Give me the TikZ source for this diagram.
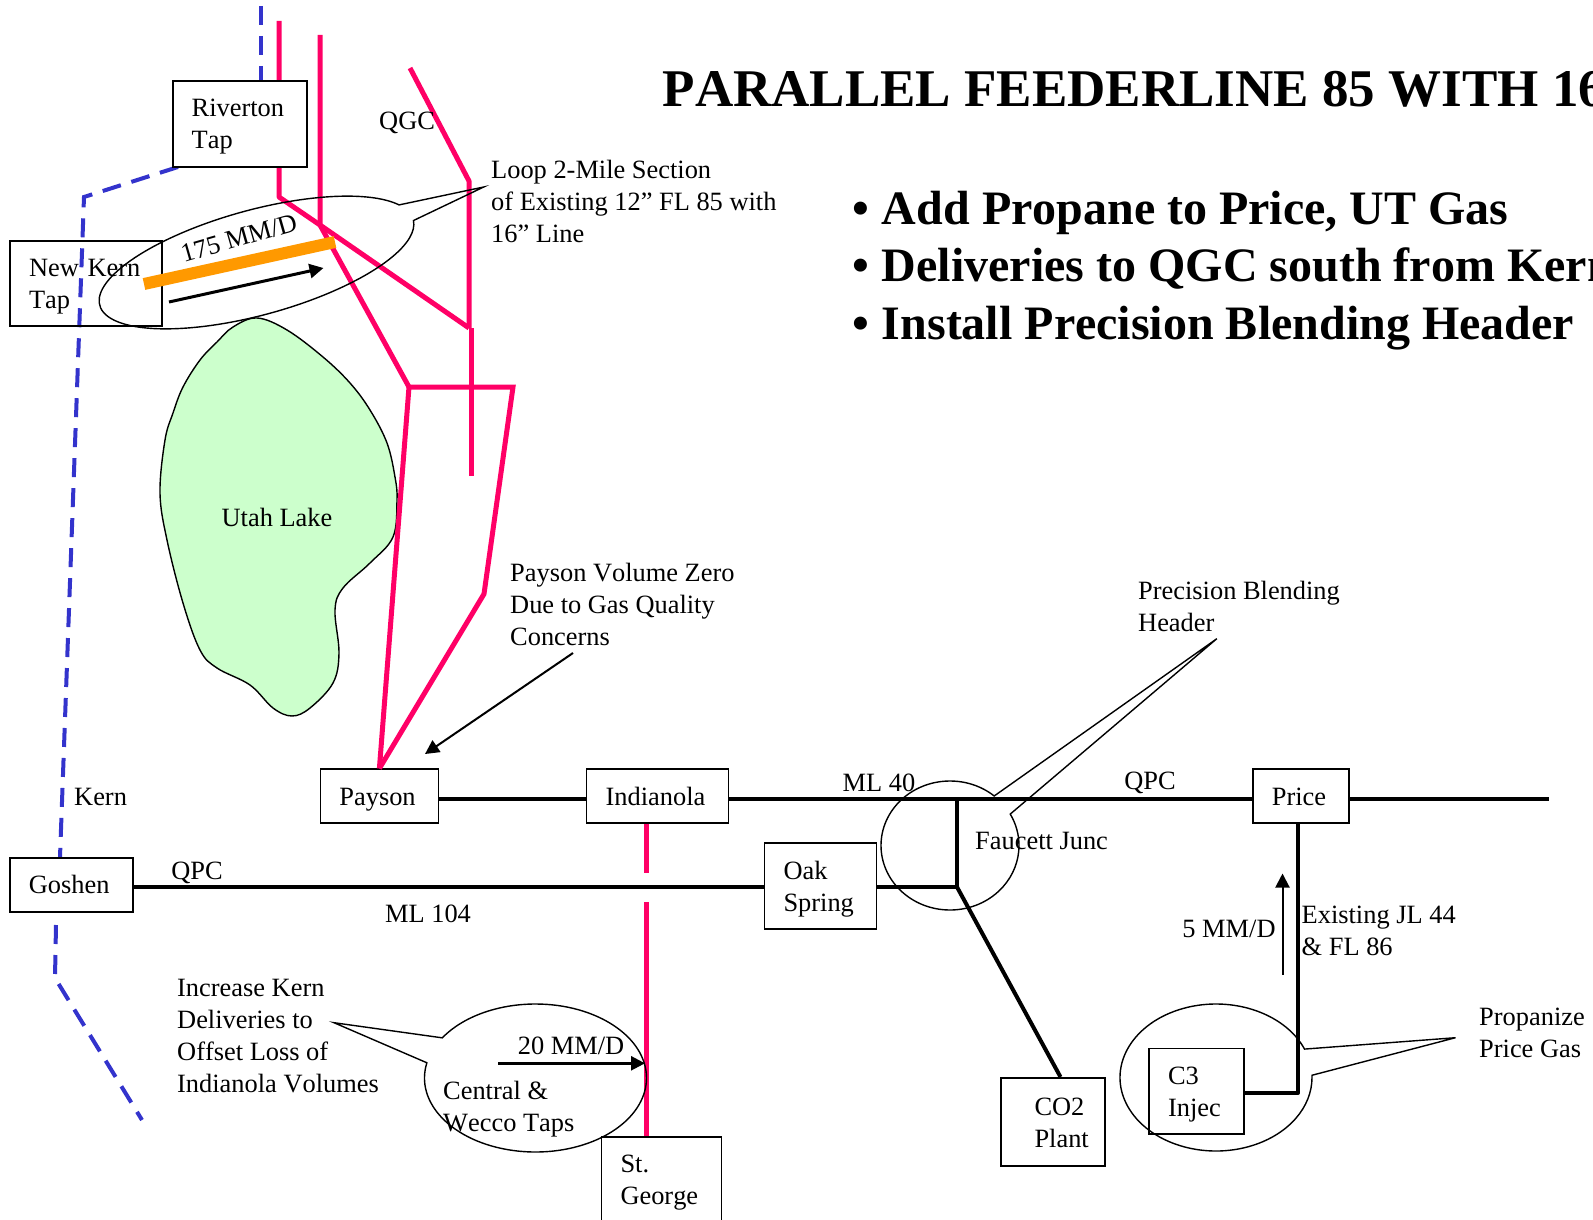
\documentclass[tikz,border=0pt]{standalone}
\usepackage{fontspec}
\setmainfont[Kerning=Off]{Liberation Serif}
\usetikzlibrary{arrows.meta,shapes.callouts,shapes.geometric}
\definecolor{feedPink}{RGB}{255,0,102}
\definecolor{kernBlue}{RGB}{51,51,204}
\definecolor{loopOrange}{RGB}{255,153,0}
\definecolor{lakeGreen}{RGB}{204,255,204}
\newcommand{\tapstrut}{\rule[-6pt]{0pt}{30pt}}

\begin{document}
\begin{tikzpicture}[x=1pt, y=-1pt,
    tap/.style={rectangle, draw=black, line width=1.7pt, fill=white, inner xsep=19pt, inner ysep=0pt,
                font=\fontsize{26.4}{32}\selectfont, align=left,
                execute at begin node=\tapstrut, execute at end node=\tapstrut},
    lbl/.style={inner sep=0pt, font=\fontsize{26.4}{32}\selectfont, align=left},
    bubble/.style={ellipse callout, draw=black, line width=1.4pt, callout pointer arc=21, inner sep=0pt},
    feed/.style={feedPink, line width=5pt},
    kern/.style={kernBlue, line width=4pt, dash pattern=on 19pt off 11pt},
    main/.style={black, line width=4pt},
    flow/.style={-{Triangle[length=14pt,width=14pt]}, black, line width=2.5pt}
  ]
  \clip[use as bounding box] (0,0) rectangle (1593,1220);

  % free ends and bends of the lines
  \coordinate (kernN) at (261,6);
  \coordinate (rivE)  at (178,167);
  \coordinate (kernB) at (84,197);
  \coordinate (goshN) at (60,857);
  \coordinate (goshS) at (56,925);
  \coordinate (kernC) at (55,978);
  \coordinate (kernE) at (142,1120);
  \coordinate (lineA) at (279,21);
  \coordinate (lineB) at (279,197);
  \coordinate (lineC) at (320,35);
  \coordinate (joinA) at (320,225);
  \coordinate (qgcN)  at (410,68);
  \coordinate (qgcB)  at (469,181);
  \coordinate (qgcC)  at (469,328);
  \coordinate (qgcE)  at (471,476);
  \coordinate (westT) at (409,387);
  \coordinate (eastT) at (513,387);
  \coordinate (eastB) at (484,594);
  \coordinate (stgA)  at (646,873);
  \coordinate (stgB)  at (646,902);
  \coordinate (mainE) at (1549,799);
  \coordinate (faucN) at (957,799);
  \coordinate (faucS) at (957,887);
  \coordinate (priceS) at (1298,823);
  \coordinate (c3Bend) at (1298,1093);

  \draw[kern] (kernN) -- (261,81);
  \draw[kern] (rivE) -- (kernB) -- (goshN);
  \draw[kern] (goshS) -- (kernC) -- (kernE);

  \draw[fill=lakeGreen, draw=black, line width=1.4pt] plot[smooth cycle, tension=0.6] coordinates {
    (257,318) (287,330) (323,357) (350,383) (370,410) (387,443) (395,477) (397,500) (393,537)
    (370,563) (343,588) (335,610) (339,653) (333,683) (310,708) (292,716) (273,708) (250,685)
    (217,668) (200,650) (183,603) (167,540) (160,493) (165,440) (173,413) (183,387) (200,360)
    (217,342) (233,327)};
  \node[lbl] (lake) at (277,517) {Utah Lake};

  \draw[feed, line join=round] (lineA) -- (lineB) -- (joinA) -- (qgcC);
  \draw[feed] (lineC) -- (joinA) -- (westT);
  \draw[feed, line join=round] (qgcN) -- (qgcB) -- (qgcC);
  \draw[feed] (qgcC) ++(2,0) -- (qgcE);

  \node[tap, text width=96pt, minimum height=85.5pt] (riverton) at (239.7,124) {Riverton\\Tap};
  \node[tap, text width=114pt, minimum height=85pt, fill=none] (newkern) at (86,283.5) {New Kern\\Tap};
  \node[tap, text width=80pt, minimum height=53.4pt] (payson) at (379.4,796) {Payson};
  \node[tap, text width=104pt, minimum height=53.4pt] (indianola) at (657.6,796) {Indianola};
  \node[tap, text width=85pt, minimum height=54pt] (goshen) at (71.4,884.7) {Goshen};
  \node[tap, text width=74pt, minimum height=86pt] (oak) at (820.5,886) {Oak\\Spring};
  \node[tap, text width=82pt, minimum height=84pt] (george) at (661.5,1179) {St.\\George};
  \node[tap, text width=58.3pt, minimum height=54pt] (price) at (1301,796) {Price};
  \node[tap, inner xsep=16pt, text width=72pt, minimum height=88.3pt] (co2) at (1053,1122) {\hspace*{17.5pt}CO2\\\hspace*{17.5pt}Plant};
  \node[tap, text width=57pt, minimum height=85.4pt] (c3) at (1196.5,1091.3) {C3\\Injec};

  \draw[feed] (westT) -- (eastT) -- (eastB) -- (payson.north);
  \draw[feed, line join=round] (westT) -- (payson.north);
  \draw[feed] (indianola.south -| stgA) -- (stgA);
  \draw[feed] (stgB) -- (george.north -| stgB);

  \draw[main] (payson.east |- mainE) -- (indianola.west |- mainE);
  \draw[main] (indianola.east |- mainE) -- (price.west |- mainE);
  \draw[main] (price.east |- mainE) -- (mainE);
  \draw[main] (goshen.east |- faucS) -- (oak.west |- faucS);
  \draw[main, line join=round] (oak.east |- faucS) -- (faucS) -- (faucN);
  \draw[main] (faucS) -- (co2.north -| 1060.5,0);
  \draw[main, line join=round] (priceS) -- (c3Bend) -- (c3.east |- c3Bend);

  \node[bubble, minimum width=325pt, minimum height=105pt, rotate=15.3,
        callout absolute pointer={(483.7,187)}] (loopBub) at (256.5,262.5) {};
  \node[bubble, minimum width=138pt, minimum height=129pt,
        callout absolute pointer={(1216.8,638.7)}] (faucBub) at (950,845.5) {};
  \node[bubble, minimum width=222pt, minimum height=148pt,
        callout absolute pointer={(334,1022.7)}] (tapBub) at (535.5,1078) {};
  \node[bubble, minimum width=192pt, minimum height=147pt,
        callout absolute pointer={(1455.5,1037.7)}] (c3Bub) at (1216,1077.5) {};

  \coordinate (loopW) at (144,284);
  \coordinate (loopE) at (335,242);
  \draw[loopOrange, line width=12pt] (loopW) -- (loopE);
  \node[lbl, rotate=16] (loopRate) at (239,238) {175 MM/D};
  \coordinate (rateA) at (169,302);
  \coordinate (rateB) at (323.5,268);
  \draw[flow, line width=3pt] (rateA) -- (rateB);

  \coordinate (tapA) at (498,1063.3);
  \coordinate (tapB) at (645,1063.3);
  \draw[flow] (tapA) -- (tapB);
  \coordinate (c3A) at (1282.5,974.6);
  \coordinate (c3B) at (1282.5,873.5);
  \draw[flow, line width=2pt] (c3A) -- (c3B);

  \node[lbl, anchor=west] (qgc) at (379,123) {QGC};
  \node[lbl, anchor=west] (loopNote) at (491,201) {Loop 2-Mile Section\\of Existing 12” FL 85 with\\16” Line};
  \node[lbl, anchor=west] (paysonNote) at (510,604.5) {Payson Volume Zero\\Due to Gas Quality\\Concerns};
  \node[lbl, anchor=west] (blendNote) at (1138,606.5) {Precision Blending\\Header};
  \node[lbl] (ml40) at (879,783) {ML 40};
  \node[lbl] (qpcE) at (1150,783) {QPC};
  \node[lbl, anchor=west] (kernLbl) at (74,796.5) {Kern};
  \node[lbl] (qpcW) at (197,873) {QPC};
  \node[lbl] (ml104) at (428,914) {ML 104};
  \node[lbl, anchor=west] (faucett) at (975,841) {Faucett Junc};
  \node[lbl] (fiveMM) at (1229,929) {5 MM/D};
  \node[lbl, anchor=west] (existing) at (1301.5,931) {Existing JL 44\\\& FL 86};
  \node[lbl, anchor=west] (propanize) at (1479,1033) {Propanize\\Price Gas};
  \node[lbl, anchor=west] (increase) at (177,1036) {Increase Kern\\Deliveries to\\Offset Loss of\\Indianola Volumes};
  \node[lbl] (twentyMM) at (571,1045.5) {20 MM/D};
  \node[lbl, anchor=west] (central) at (443,1109) {Central \&\\Wecco Taps};

  \coordinate (noteA) at (573,653);
  \coordinate (noteB) at (425,754);
  \draw[flow, line width=2pt] (noteA) -- (noteB);

  \node[inner sep=0pt, anchor=west, font=\fontsize{53}{60}\selectfont\bfseries] (title) at (662.5,89.5) {PARALLEL FEEDERLINE 85 WITH 16};
  \node[inner sep=0pt, anchor=west, align=left, font=\fontsize{48}{57.4}\selectfont\bfseries] (points) at (852,270.5)
    {•\hspace{13pt}Add Propane to Price, UT Gas\\•\hspace{13pt}Deliveries to QGC south from Kern\\•\hspace{13pt}Install Precision Blending Header};
\end{tikzpicture}
\end{document}
